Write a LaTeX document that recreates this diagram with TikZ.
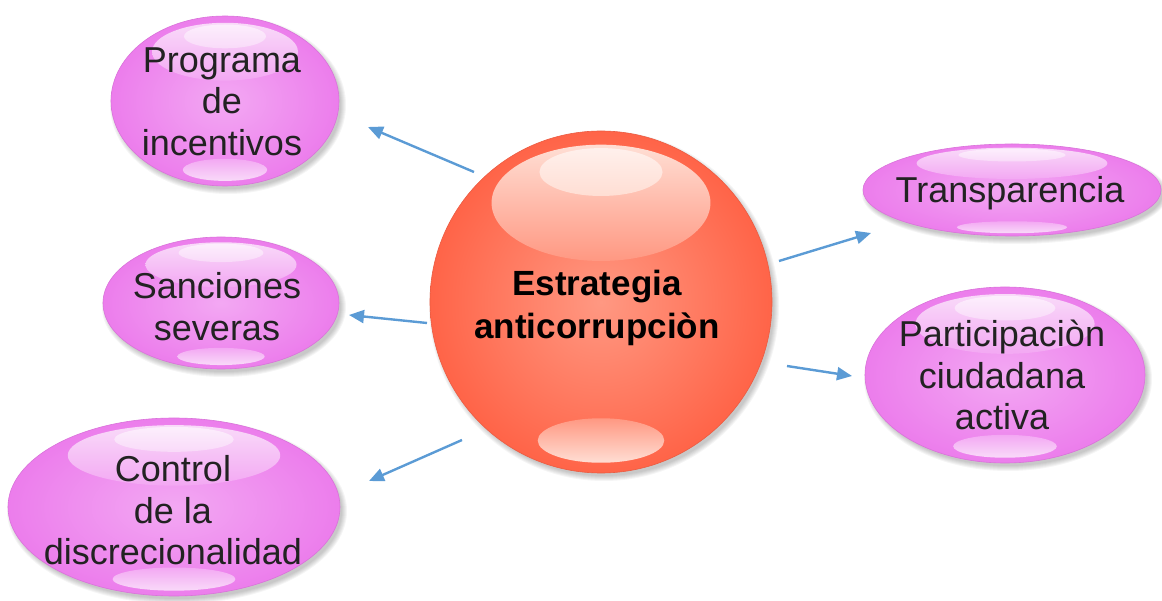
\documentclass[tikz,border=0pt]{standalone}
\usepackage{fontspec}
\setmainfont{Liberation Sans}
\usetikzlibrary{arrows.meta,shapes.geometric}

\definecolor{pinkEdge}{RGB}{236,125,236}
\definecolor{pinkMid}{RGB}{243,168,243}
\definecolor{pinkHi}{RGB}{249,218,249}
\definecolor{redEdge}{RGB}{255,100,72}
\definecolor{redMid}{RGB}{255,152,130}
\definecolor{redHi}{RGB}{255,222,212}
\definecolor{arrowBlue}{RGB}{91,155,213}
\definecolor{ink}{RGB}{34,34,34}

% glossy ball: #1 name, #2 cx, #3 cy, #4 rx, #5 ry, #6 edge, #7 middle, #8 highlight
\newcommand\glossball[8]{%
  \foreach \k in {0,...,5}
    \fill[black, opacity=0.04] ({#2+3},{#3+4}) ellipse ({#4+4-\k} and {#5+4-\k});
  \node[ballshape, minimum width={2*#4}, minimum height={2*#5},
        inner color=#7, outer color=#6, draw=#6!92!black] (#1) at (#2,#3) {};
  \shade[top color=#8, bottom color=#7]
    (#2,{#3-0.58*#5}) ellipse ({0.64*#4} and {0.34*#5});
  \shade[top color=#8!45!white, bottom color=#8]
    (#2,{#3-0.76*#5}) ellipse ({0.36*#4} and {0.14*#5});
  \shade[top color=#7, bottom color=#8]
    (#2,{#3+0.81*#5}) ellipse ({0.37*#4} and {0.13*#5});
}

\begin{document}
\begin{tikzpicture}[x=1pt,y=-1pt,
  ballshape/.style={ellipse, inner sep=0pt, outer sep=0pt, line width=0.6pt},
  pinktext/.style={font=\fontsize{36}{41.5}\selectfont, text=ink, align=center, inner sep=0pt},
  coretext/.style={font=\fontsize{35}{43}\selectfont\bfseries, text=black, align=center, inner sep=0pt},
  link/.style={draw=arrowBlue, line width=2.4pt, -{Triangle[length=15pt,width=13pt]}}]

\useasboundingbox (0,0) rectangle (1162,601);

% central sphere
\glossball{core}{601}{302}{171}{171}{redEdge}{redMid}{redHi}
\node[coretext] (coreT) at (597,307.5) {Estrategia\\anticorrupciòn};

% left-hand balls
\glossball{prog}{225}{101}{114}{85}{pinkEdge}{pinkMid}{pinkHi}
\node[pinktext] (progT) at (222,101.5) {Programa\\de\\incentivos};

\glossball{sanc}{221}{303}{118}{66}{pinkEdge}{pinkMid}{pinkHi}
\node[pinktext] (sancT) at (217,306.5) {Sanciones\\severas};

\glossball{ctrl}{174}{507}{166}{89}{pinkEdge}{pinkMid}{pinkHi}
\node[pinktext] (ctrlT) at (173,510.5) {Control\\de la\\discrecionalidad};

% right-hand balls
\glossball{trans}{1012}{190}{149}{46}{pinkEdge}{pinkMid}{pinkHi}
\node[pinktext] (transT) at (1010,193) {Transparencia};

\glossball{part}{1005}{375}{140}{88}{pinkEdge}{pinkMid}{pinkHi}
\node[pinktext] (partT) at (1002,375) {Participaciòn\\ciudadana\\activa};

% arrow end points
\coordinate (a1s) at (474,172); \coordinate (a1e) at (368,127);
\coordinate (a2s) at (427,323); \coordinate (a2e) at (349,315);
\coordinate (a3s) at (462,440); \coordinate (a3e) at (369,481);
\coordinate (a4s) at (779,261); \coordinate (a4e) at (871,233);
\coordinate (a5s) at (787,366); \coordinate (a5e) at (852,376);

\draw[link] (a1s) -- (a1e);
\draw[link] (a2s) -- (a2e);
\draw[link] (a3s) -- (a3e);
\draw[link] (a4s) -- (a4e);
\draw[link] (a5s) -- (a5e);
\end{tikzpicture}
\end{document}
